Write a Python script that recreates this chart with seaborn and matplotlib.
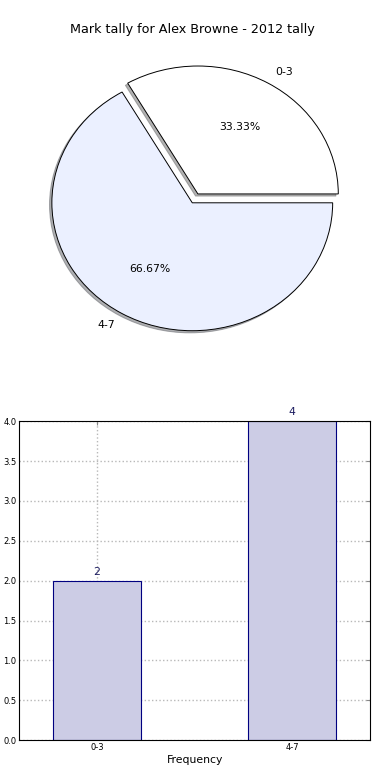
import seaborn as sns
from matplotlib import pyplot as plt

# data
categories = ["0-3", "4-7"]
counts     = [2, 4]

TITLE = "Mark tally for Alex Browne - 2012 tally"

sns.set_style("white")
plt.rcParams['font.family'] = ['DejaVu Sans']
plt.rcParams['text.color']  = 'black'
plt.rcParams['xtick.color'] = 'black'
plt.rcParams['ytick.color'] = 'black'
plt.rcParams['axes.labelcolor'] = 'black'

fig = plt.figure(figsize=(3.9, 7.8), dpi=100)

# --- pie ---
ax_pie = fig.add_axes([0.043, 0.535, 0.9, 0.41])
wedges, texts, autotexts = ax_pie.pie( counts
                                     , labels      = categories
                                     , colors      = ["white", "#EBF0FF"]
                                     , explode     = (0.08, 0)
                                     , shadow      = {"ox": -0.012, "oy": -0.012, "shade": 0.6}
                                     , startangle  = 0
                                     , autopct     = "%1.2f%%"
                                     , labeldistance = 1.1
                                     , pctdistance = 0.6
                                     , wedgeprops  = {"edgecolor": "black", "linewidth": 0.7}
                                     , textprops   = {"fontsize": 7.8, "color": "black"})
ax_pie.set_aspect("auto")
ax_pie.set_xlim(-1.25, 1.25)
ax_pie.set_ylim(-1.25, 1.25)
ax_pie.set_axis_off()
ax_pie.set_title(TITLE, fontsize=9.2, pad=7, color="black")

# --- bars ---
ax_bar = fig.add_axes([0.049, 0.051, 0.9, 0.409])
sns.barplot( x = categories, y = counts, ax = ax_bar
           , width = 0.45, color = "#CCCCE5", saturation = 1
           , edgecolor = "#000080", linewidth = 0.8)
for i, v in enumerate(counts):
    ax_bar.text(i, v + 0.05, str(v), ha="center", va="bottom",
                fontsize=7.8, color="#1a1a5e")

ax_bar.set_xlim(-0.4, 1.4)
ax_bar.set_ylim(0, 4)
ax_bar.set_yticks([0.0, 0.5, 1.0, 1.5, 2.0, 2.5, 3.0, 3.5, 4.0])
ax_bar.set_yticklabels(["%.1f" % t for t in ax_bar.get_yticks()])
ax_bar.set_xlabel("Frequency", fontsize=7.8, labelpad=2)
ax_bar.set_ylabel("")
ax_bar.grid(True, linestyle=":", color="#b8b8b8", linewidth=1)
ax_bar.set_axisbelow(True)
ax_bar.tick_params(direction="in", length=3, width=0.8, labelsize=6,
                   top=True, right=True, color="#888888", pad=2)
for s in ax_bar.spines.values():
    s.set_color("black")
    s.set_linewidth(0.8)
    s.set_visible(True)

fig.savefig("out.png", dpi=100)
